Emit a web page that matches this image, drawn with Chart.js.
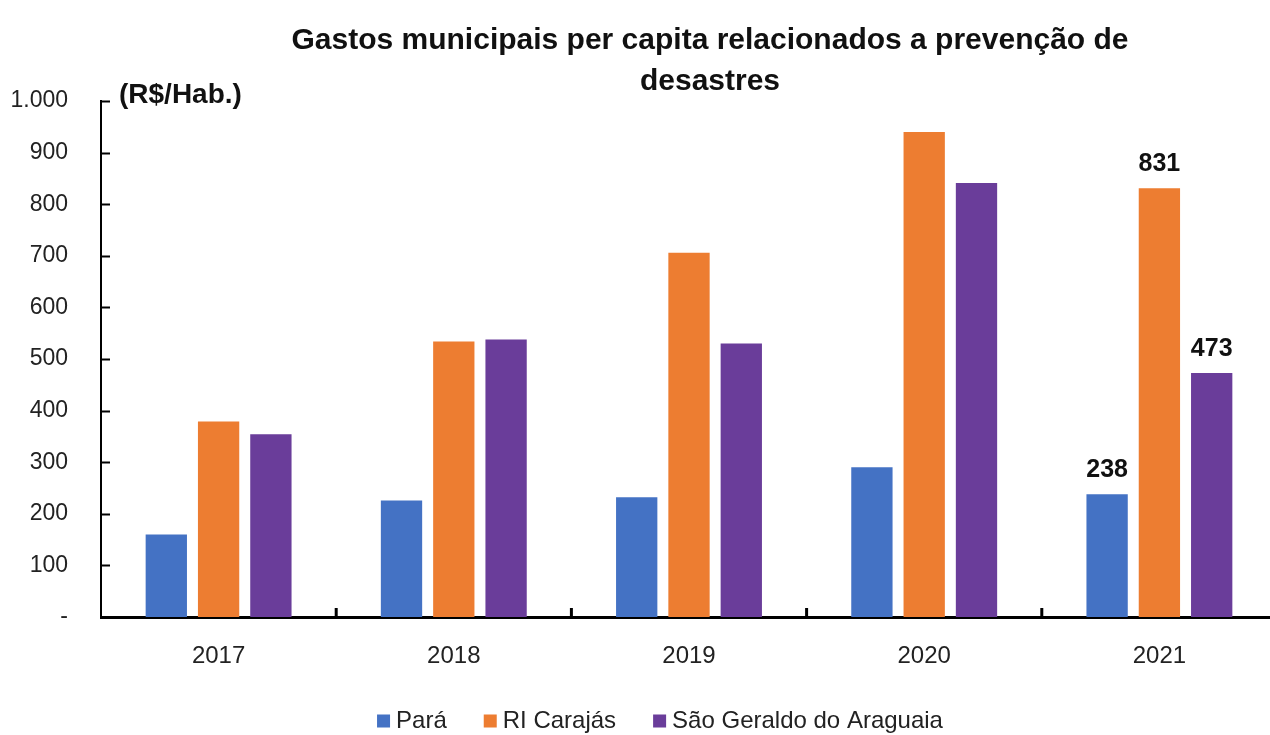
<!DOCTYPE html>
<html>
<head>
<meta charset="utf-8">
<script src="https://cdn.jsdelivr.net/npm/chart.js@4"></script>
<style>
  html, body { margin: 0; padding: 0; background: #fff; }
</style>
</head>
<body>
<canvas id="myChart" width="1270" height="735"></canvas>
<script>
// dados (R$/Hab.)
const anos = ["2017", "2018", "2019", "2020", "2021"];
const para = [160, 226, 232, 290, 238];
const ri_carajas = [379, 534, 706, 940, 831];
const sao_geraldo = [354, 538, 530, 841, 473];
const series_nomes = ["Pará", "RI Carajás", "São Geraldo do Araguaia"];
const series_cores = ["#4472C4", "#ED7D31", "#6A3D9A"];
const y_ticks = [0, 100, 200, 300, 400, 500, 600, 700, 800, 900, 1000];
const y_tick_labels = ["-", "100", "200", "300", "400", "500", "600", "700", "800", "900", "1.000"];
const titulo = ["Gastos municipais per capita relacionados a prevenção de", "desastres"];
const unidade = "(R$/Hab.)";
const ano_rotulado = 4; // so 2021 tem rotulos

const fonte = "'Liberation Sans Narrow', 'Arial Narrow', 'Liberation Sans', Arial, sans-serif";

// o eixo x do original passa um pouco da borda direita
const estende_x = {
  id: "estende_x",
  afterLayout(chart) {
    const x = chart.scales.x;
    x.right = x.right + 7;
    x.width = x.right - x.left;
    x.configure();
  },
};

// titulo, unidade, legenda, marcas dos eixos e rotulos de 2021
const extras = {
  id: "extras",
  afterDraw(chart) {
    const ctx = chart.ctx;
    const area = chart.chartArea;
    const x = chart.scales.x;
    const y = chart.scales.y;
    ctx.save();
    ctx.fillStyle = "#111";
    ctx.textAlign = "center";
    ctx.textBaseline = "alphabetic";
    ctx.font = "bold 30px " + fonte;
    ctx.fillText(titulo[0], 710, 49);
    ctx.fillText(titulo[1], 710, 90);

    ctx.textAlign = "left";
    ctx.font = "bold 28px " + fonte;
    ctx.fillText(unidade, 119, 103);

    // marcas do eixo y (para dentro)
    ctx.strokeStyle = "#000";
    ctx.lineWidth = 2;
    y_ticks.forEach((v) => {
      let py = Math.round(y.getPixelForValue(v)) + 0.5;
      ctx.beginPath();
      ctx.moveTo(area.left, py);
      ctx.lineTo(area.left + 9, py);
      ctx.stroke();
    });

    // marcas do eixo x entre categorias
    ctx.lineWidth = 3;
    for (let i = 0; i < anos.length - 1; i++) {
      let px = (x.getPixelForValue(i) + x.getPixelForValue(i + 1)) / 2;
      ctx.beginPath();
      ctx.moveTo(px, area.bottom);
      ctx.lineTo(px, area.bottom - 9);
      ctx.stroke();
    }

    // rotulos de valor
    ctx.textAlign = "center";
    ctx.font = "bold 25px " + fonte;
    chart.data.datasets.forEach((ds, k) => {
      let bar = chart.getDatasetMeta(k).data[ano_rotulado];
      ctx.fillText(String(ds.data[ano_rotulado]), bar.x, bar.y - 17);
    });

    // legenda
    ctx.font = "24px " + fonte;
    ctx.textAlign = "left";
    ctx.textBaseline = "middle";
    let box = 13, gap = 6, espaco = 37;
    let total = 0;
    series_nomes.forEach((n, k) => {
      total += box + gap + ctx.measureText(n).width;
      if (k < series_nomes.length - 1) total += espaco;
    });
    let lx = 660 - total / 2;
    let ly = 721;
    series_nomes.forEach((n, k) => {
      ctx.fillStyle = series_cores[k];
      ctx.fillRect(lx, ly - box / 2, box, box);
      lx += box + gap;
      ctx.fillStyle = "#222";
      ctx.fillText(n, lx, ly);
      lx += ctx.measureText(n).width + espaco;
    });
    ctx.restore();
  },
};

let ctx = document.getElementById("myChart").getContext("2d");
let myChart = new Chart(ctx, {
  type: "bar",
  data: {
    labels: anos,
    datasets: [
      { label: series_nomes[0], data: para, backgroundColor: series_cores[0] },
      { label: series_nomes[1], data: ri_carajas, backgroundColor: series_cores[1] },
      { label: series_nomes[2], data: sao_geraldo, backgroundColor: series_cores[2] },
    ],
  },
  options: {
    responsive: false,
    animation: false,
    categoryPercentage: 0.667,
    barPercentage: 0.79,
    layout: { padding: { top: 101, left: 0, right: 0, bottom: 0 } },
    plugins: {
      title: { display: false },
      tooltip: { enabled: false },
      legend: { display: false },
    },
    scales: {
      x: {
        grid: { display: false, drawTicks: false },
        border: { color: "#000", width: 3 },
        ticks: { font: { family: fonte, size: 24 }, color: "#222", padding: 25 },
        afterFit: (s) => { s.height = 118; },
      },
      y: {
        min: 0,
        max: 1000,
        grid: { display: false, drawTicks: false },
        border: { color: "#000", width: 2 },
        ticks: {
          stepSize: 100,
          font: { family: fonte, size: 23 },
          color: "#222",
          padding: 33,
          callback: (v) => y_tick_labels[y_ticks.indexOf(v)],
        },
        afterFit: (s) => { s.width = 101; },
      },
    },
  },
  plugins: [estende_x, extras],
});
</script>
</body>
</html>
